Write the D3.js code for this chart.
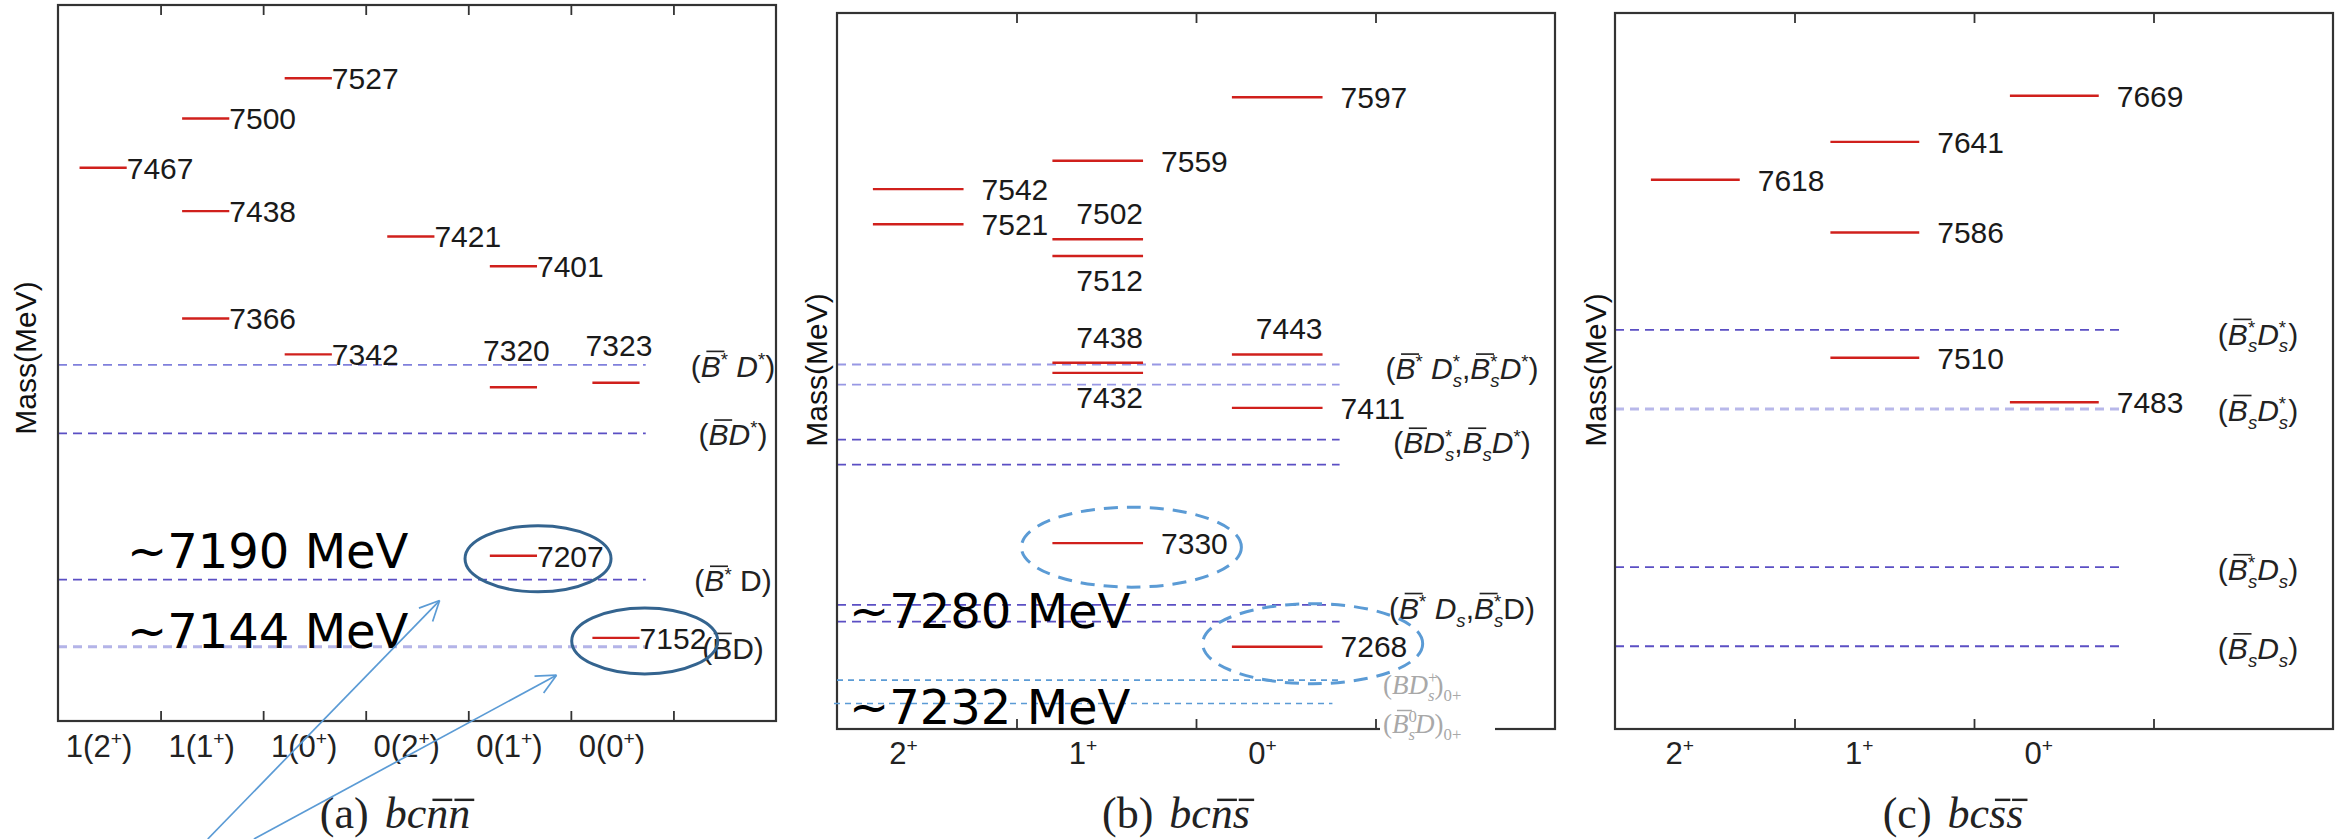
<!DOCTYPE html>
<html><head><meta charset="utf-8">
<script src="https://cdn.jsdelivr.net/npm/d3@7"></script>
<style>body{margin:0;background:#fff}svg{display:block}</style>
</head><body>
<svg id="c" width="2346" height="839"></svg>
<script>
// ---------------- data ----------------
const catsA = ["1(2^+)","1(1^+)","1(0^+)","0(2^+)","0(1^+)","0(0^+)"];
const catsB = ["2^+","1^+","0^+"];
const catsC = ["2^+","1^+","0^+"];

const levelsA   = [7467, 7500, 7438, 7366, 7527, 7342, 7421, 7401, 7320, 7207, 7323, 7152];
const levelCatA = [0, 1, 1, 1, 2, 2, 3, 4, 4, 4, 5, 5];
const levelTextA = ["7467","7500","7438","7366","7527","7342","7421","7401","7320","7207","7323","7152"];
const labelSideA = ["r","r","r","r","r","r","r","r","t","r","t","r"];

const levelsB   = [7542, 7521, 7559, 7512, 7502, 7438, 7432, 7330, 7597, 7443, 7411, 7268];
const levelCatB = [0, 0, 1, 1, 1, 1, 1, 1, 2, 2, 2, 2];
const levelTextB = ["7542","7521","7559","7502","7512","7438","7432","7330","7597","7443","7411","7268"];
const labelSideB = ["r","r","r","t","b","t","b","r","r","t","r","r"];

const levelsC   = [7618, 7641, 7586, 7510, 7669, 7483];
const levelCatC = [0, 1, 1, 1, 2, 2];
const levelTextC = ["7618","7641","7586","7510","7669","7483"];
const labelSideC = ["r","r","r","r","r","r"];

const thresholdsA = [7335, 7289, 7191, 7146];
const channelsA   = ["(~B^* D^*)", "(~BD^*)", "(~B^* !D)", "(~!B!D)"];

const thresholdsB = [7437, 7425, 7392, 7377, 7293, 7283];
const channelsB   = ["(~B^* D^*_s,~B^*_sD^*)", "", "(~BD^*_s,~B_sD^*)", "", "(~B^* D_s,~B^*_s!D)", ""];
const thresholdsB0 = [7248, 7234];
const channelsB0   = ["(BD^+_s)_0_+", "(~B^0_sD)_0_+"];

const thresholdsC = [7527, 7479, 7383, 7335];
const channelsC   = ["(~B^*_sD^*_s)", "(~B_sD^*_s)", "(~B^*_sD_s)", "(~B_sD_s)"];

const captions = ["(a)|bc~n~n", "(b)|bc~n~s", "(c)|bc~s~s"];
const notesA = ["~7190 MeV", "~7144 MeV"];
const notesB = ["~7280 MeV", "~7232 MeV"];

// ---------------- helpers ----------------
const svg = d3.select("#c");
const SANS = "'Liberation Sans', Arial, sans-serif";
const SERIF = "'Liberation Serif', 'Times New Roman', serif";

function rich(text, markup, o) {
  const F = o.size;
  const supShift = o.supShift || 0.40;
  const toks = [];
  let afterGap = false;
  for (let i = 0; i < markup.length; i++) {
    const t = {ov:false, sup:false, sub:false, up:false};
    let c = markup[i];
    if (c === '|') { afterGap = true; toks.push({gap:true}); continue; }
    while ("~^_!".includes(c) && i < markup.length - 1) {
      if (c === '~') t.ov = true;
      if (c === '^') t.sup = true;
      if (c === '_') t.sub = true;
      if (c === '!') t.up = true;
      c = markup[++i];
    }
    t.ch = c; t.afterGap = afterGap;
    toks.push(t);
  }
  let cur = 0, prev = null, pendingDx = 0, idx = 0;
  const ovs = [];
  toks.forEach(t => {
    if (t.gap) { pendingDx += o.gap || 0; prev = null; return; }
    const target = t.sup ? -supShift * F : (t.sub ? 0.26 * F : 0);
    const ts = text.append("tspan").text(t.ch);
    let dx = pendingDx; pendingDx = 0;
    if (t.sub && prev && prev.sup) dx -= prev.node.getComputedTextLength();
    if (dx) ts.attr("dx", dx);
    if (target - cur) ts.attr("dy", target - cur);
    cur = target;
    if (t.sup || t.sub) ts.attr("font-size", 0.62 * F);
    const ital = !t.up && ((o.italicAfterGap && t.afterGap) || (o.italicRe && o.italicRe.test(t.ch)));
    if (ital) ts.attr("font-style", "italic");
    if (t.ov) ovs.push({idx, ital, upper: /[A-Z]/.test(t.ch)});
    prev = {sup: t.sup, node: ts.node()};
    idx += 1;
  });
  // manual overlines
  const node = text.node();
  const parent = d3.select(node.parentNode);
  const col = text.attr("fill") || "#222";
  ovs.forEach(ov => {
    const p0 = node.getStartPositionOfChar(ov.idx);
    const p1 = node.getEndPositionOfChar(ov.idx);
    const h = (ov.upper ? 0.84 : 0.64) * F;
    const sk = ov.ital ? 0.16 * h : 0;
    const w = p1.x - p0.x;
    parent.append("line")
      .attr("x1", p0.x + sk + w * 0.08).attr("x2", p1.x + sk - w * 0.02)
      .attr("y1", p0.y - h).attr("y2", p0.y - h)
      .attr("stroke", col).attr("stroke-width", Math.max(1.4, F * 0.055));
  });
}

function panel(cfg) {
  const x = d3.scaleLinear().domain([0, cfg.n]).range([cfg.x0, cfg.x1]);
  const y = d3.scaleLinear().domain(cfg.dom).range([cfg.y1, cfg.y0]);
  const g = svg.append("g");

  // threshold dashed lines
  cfg.thr.forEach((v, i) => {
    g.append("line")
      .attr("x1", cfg.x0).attr("x2", x(cfg.thrEnd))
      .attr("y1", y(v)).attr("y2", y(v))
      .attr("stroke", cfg.thrColor[i]).attr("stroke-width", cfg.thrWidth[i])
      .attr("stroke-dasharray", "9 6");
  });
  // channel labels
  cfg.thr.forEach((v, i) => {
    if (!cfg.chan[i]) return;
    const t = g.append("text").attr("x", cfg.chanX).attr("y", y(v) + cfg.chanDy[i])
      .attr("dy", "0.36em")
      .attr("text-anchor", "middle").attr("font-family", SANS).attr("font-size", cfg.chanSize)
      .attr("fill", "#222");
    rich(t, cfg.chan[i], {size:cfg.chanSize, italicRe:/[BDs]/, supShift:0.36});
  });

  // level bars
  cfg.levels.forEach((v, i) => {
    const c = cfg.cat[i];
    g.append("line")
      .attr("x1", x(c + cfg.barL)).attr("x2", x(c + cfg.barR))
      .attr("y1", y(v)).attr("y2", y(v))
      .attr("stroke", "#d0201c").attr("stroke-width", 2.4);
  });
  // level labels
  cfg.levels.forEach((v, i) => {
    const c = cfg.cat[i], side = cfg.side[i];
    const t = g.append("text").text(cfg.text[i])
      .attr("font-family", SANS).attr("font-size", 30).attr("fill", "#1a1a1a");
    if (side === "r") {
      t.attr("x", x(c + cfg.barR) + cfg.gapR).attr("y", y(v)).attr("dy", "0.36em");
    } else if (side === "t") {
      t.attr("x", cfg.topAnchor === "middle" ? (x(c + cfg.barL) + x(c + cfg.barR)) / 2 + 3 : x(c + cfg.barR))
       .attr("text-anchor", cfg.topAnchor)
       .attr("y", y(v) - cfg.topOff).attr("dy", "0.36em");
    } else {
      t.attr("x", x(c + cfg.barR)).attr("text-anchor", "end")
       .attr("y", y(v) + cfg.botOff).attr("dy", "0.36em");
    }
  });

  // frame + ticks
  const ticks = d3.range(1, cfg.n);
  const ax1 = g.append("g").attr("transform", `translate(0,${cfg.y1})`)
    .call(d3.axisBottom(x).tickValues(ticks).tickSize(-10).tickFormat(""));
  const ax2 = g.append("g").attr("transform", `translate(0,${cfg.y0})`)
    .call(d3.axisTop(x).tickValues(ticks).tickSize(-10).tickFormat(""));
  [ax1, ax2].forEach(a => {
    a.select(".domain").remove();
    a.selectAll("line").attr("stroke", "#333").attr("stroke-width", 1.8);
  });
  g.append("rect").attr("x", cfg.x0).attr("y", cfg.y0)
    .attr("width", cfg.x1 - cfg.x0).attr("height", cfg.y1 - cfg.y0)
    .attr("fill", "none").attr("stroke", "#333").attr("stroke-width", 2.2);

  // category labels
  cfg.cats.forEach((s, k) => {
    const t = g.append("text").attr("x", x(k + cfg.catOff)).attr("y", cfg.catY)
      .attr("text-anchor", "middle").attr("font-family", SANS).attr("font-size", 31)
      .attr("fill", "#222");
    rich(t, s, {size:31});
  });

  // y label
  g.append("text").text("Mass(MeV)")
    .attr("transform", `translate(${cfg.ylabX},${cfg.ylabY}) rotate(-90)`)
    .attr("text-anchor", "middle").attr("font-family", SANS).attr("font-size", 30)
    .attr("fill", "#111");

  // caption
  const cap = g.append("text").attr("x", cfg.capX).attr("y", 828)
    .attr("text-anchor", "middle").attr("font-family", SERIF).attr("font-size", 44)
    .attr("fill", "#222");
  rich(cap, cfg.caption, {size:44, italicAfterGap:true, gap:16});

  return {x, y, g};
}

// ---------------- panels ----------------
const A = panel({
  x0:58, x1:776, y0:5, y1:721, n:7, dom:[7096.3, 7576.1],
  levels:levelsA, cat:levelCatA, text:levelTextA, side:labelSideA,
  barL:0.21, barR:0.67, gapR:0, topAnchor:"middle", topOff:37, botOff:24,
  thr:thresholdsA, chan:channelsA, thrEnd:5.73, chanSize:30,
  thrColor:["#8080dc", "#5b4fc4", "#5b4fc4", "#b4b4e8"], thrWidth:[1.8, 1.8, 1.8, 3],
  chanX:733, chanDy:[1, 1, 1, 1],
  cats:catsA, catOff:0.4, catY:757, ylabX:36, ylabY:358, capX:395, caption:captions[0]
});
const B = panel({
  x0:837, x1:1555, y0:13, y1:729, n:4, dom:[7218.7, 7647.5],
  levels:levelsB, cat:levelCatB, text:levelTextB, side:labelSideB,
  barL:0.2, barR:0.705, gapR:18, topAnchor:"end", topOff:26, botOff:24,
  thr:thresholdsB, chan:channelsB, thrEnd:2.8, chanSize:30,
  thrColor:["#9898e4", "#9898e4", "#5b4fc4", "#5b4fc4", "#5b4fc4", "#5b4fc4"],
  thrWidth:[1.8, 1.8, 1.8, 1.8, 1.8, 1.8],
  chanX:1462, chanDy:[4, 0, 3, 0, 3, 0],
  cats:catsB, catOff:0.37, catY:764, ylabX:827, ylabY:370, capX:1176, caption:captions[1]
});
const C = panel({
  x0:1615, x1:2333, y0:13, y1:729, n:4, dom:[7284.8, 7719.2],
  levels:levelsC, cat:levelCatC, text:levelTextC, side:labelSideC,
  barL:0.2, barR:0.695, gapR:18, topAnchor:"end", topOff:26, botOff:24,
  thr:thresholdsC, chan:channelsC, thrEnd:2.81, chanSize:30,
  thrColor:["#5b4fc4", "#b8b8ea", "#5b4fc4", "#5b4fc4"], thrWidth:[1.8, 3, 1.8, 1.8],
  chanX:2258, chanDy:[4, 1, 2, 2],
  cats:catsC, catOff:0.36, catY:764, ylabX:1606, ylabY:370, capX:1953, caption:captions[2]
});

// ---------------- extra (panel b) light-blue thresholds ----------------
thresholdsB0.forEach((v, i) => {
  B.g.append("line")
    .attr("x1", i ? 834 : B.x(0)).attr("x2", B.x(i ? 2.76 : 2.81))
    .attr("y1", B.y(v)).attr("y2", B.y(v))
    .attr("stroke", "#5b9bd5").attr("stroke-width", 1.6).attr("stroke-dasharray", "6 5");
});
B.g.append("rect").attr("x", 1380).attr("y", 722).attr("width", 115).attr("height", 14).attr("fill", "#fff");
thresholdsB0.forEach((v, i) => {
  const t = B.g.append("text").attr("x", 1383).attr("y", B.y(v) + (i ? 20 : 4)).attr("dy", "0.36em")
    .attr("font-family", SERIF).attr("font-size", 27).attr("fill", "#a8a8a8");
  rich(t, channelsB0[i], {size:27, italicRe:/[BDs]/});
});

// ---------------- annotations ----------------
const NOTE = "'DejaVu Sans', sans-serif";
svg.append("text").text(notesA[0]).attr("x", 127).attr("y", A.y(7191) - 12)
  .attr("font-family", NOTE).attr("font-size", 48).attr("fill", "#000");
svg.append("text").text(notesA[1]).attr("x", 127).attr("y", A.y(7146) + 1)
  .attr("font-family", NOTE).attr("font-size", 48).attr("fill", "#000");
svg.append("text").text(notesB[0]).attr("x", 849).attr("y", B.y(7283) + 6)
  .attr("font-family", NOTE).attr("font-size", 48).attr("fill", "#000");
svg.append("text").text(notesB[1]).attr("x", 849).attr("y", B.y(7234) + 21)
  .attr("font-family", NOTE).attr("font-size", 48).attr("fill", "#000");

// solid ellipses (panel a)
[[4, 7207, 0.68], [5, 7152, 0.72]].forEach(([c, v, off]) => {
  svg.append("ellipse").attr("cx", A.x(c + off)).attr("cy", A.y(v) + 3)
    .attr("rx", 73).attr("ry", 33)
    .attr("fill", "none").attr("stroke", "#34648f").attr("stroke-width", 3);
});
// dashed ellipses (panel b)
[[1, 7330, 0.64, 4], [2, 7268, 0.65, -3]].forEach(([c, v, off, dy]) => {
  svg.append("ellipse").attr("cx", B.x(c + off)).attr("cy", B.y(v) + dy)
    .attr("rx", 110).attr("ry", 40)
    .attr("fill", "none").attr("stroke", "#5b9bd5").attr("stroke-width", 3)
    .attr("stroke-dasharray", "14 9");
});
// arrows
function arrow(x1, y1, x2, y2) {
  const ang = Math.atan2(y2 - y1, x2 - x1), L = 22, a = 0.45;
  svg.append("line").attr("x1", x1).attr("y1", y1).attr("x2", x2).attr("y2", y2)
    .attr("stroke", "#5b9bd5").attr("stroke-width", 1.7);
  [ang + Math.PI - a, ang + Math.PI + a].forEach(t => {
    svg.append("line").attr("x1", x2).attr("y1", y2)
      .attr("x2", x2 + L * Math.cos(t)).attr("y2", y2 + L * Math.sin(t))
      .attr("stroke", "#5b9bd5").attr("stroke-width", 1.7);
  });
}
arrow(A.x(1.46), 839, A.x(3.72), A.y(7177));
arrow(A.x(1.91), 839, A.x(4.86), A.y(7127));
</script>
</body></html>
